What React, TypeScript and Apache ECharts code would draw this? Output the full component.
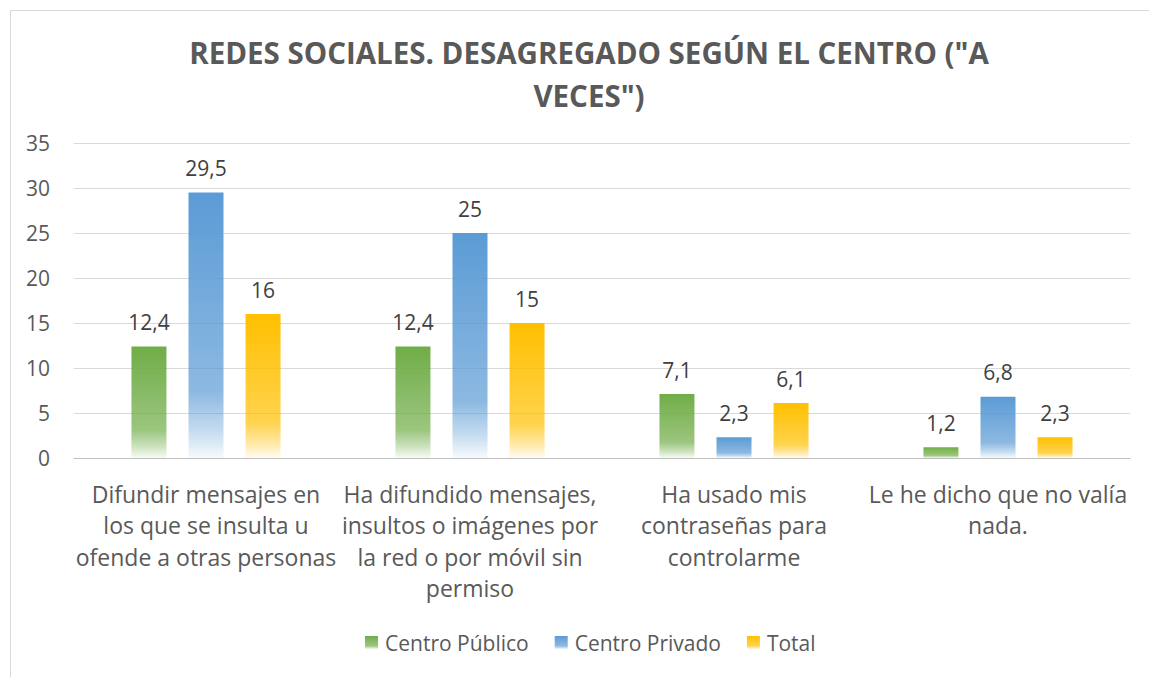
import React, { useEffect, useRef } from "react";
import * as echarts from "echarts";

const titleText = 'REDES SOCIALES. DESAGREGADO SEGÚN EL CENTRO ("A\nVECES")';
const categories = [
  "Difundir mensajes en\nlos que se insulta u\nofende a otras personas",
  "Ha difundido mensajes,\ninsultos o imágenes por\nla red o por móvil sin\npermiso",
  "Ha usado mis\ncontraseñas para\ncontrolarme",
  "Le he dicho que no valía\nnada.",
];
const seriesNames = ["Centro Público", "Centro Privado", "Total"];
const publico = [12.4, 12.4, 7.1, 1.2];
const privado = [29.5, 25, 2.3, 6.8];
const total = [16, 15, 6.1, 2.3];
const colors = ["#70AD47", "#5B9BD5", "#FFC000"];
const yTicks = { min: 0, max: 35, interval: 5 };

const FONT = "'Open Sans', 'Noto Sans', sans-serif";

function hexToRgb(h: string) {
  const n = parseInt(h.slice(1), 16);
  return [(n >> 16) & 255, (n >> 8) & 255, n & 255];
}
function grad(c: string) {
  const [r, g, b] = hexToRgb(c);
  return new echarts.graphic.LinearGradient(0, 0, 0, 1, [
    { offset: 0, color: `rgba(${r},${g},${b},1)` },
    { offset: 0.75, color: `rgba(${r},${g},${b},0.7)` },
    { offset: 0.9, color: `rgba(${r},${g},${b},0.35)` },
    { offset: 1, color: `rgba(${r},${g},${b},0.05)` },
  ]);
}

export default function App() {
  const ref = useRef<HTMLDivElement>(null);
  useEffect(() => {
    if (!ref.current) return;
    const chart = echarts.init(ref.current, undefined, { renderer: "svg" });
    const data = [publico, privado, total];
    chart.setOption({
      animation: false,
      backgroundColor: "#ffffff",
      graphic: [
        {
          type: "rect",
          shape: { x: 10.5, y: 10.5, width: 1150, height: 680 },
          style: { fill: "none", stroke: "#d9d9d9", lineWidth: 1 },
          silent: true,
        },
      ],
      title: {
        text: titleText,
        left: 584,
        top: 26,
        textAlign: "center",
        textStyle: {
          fontFamily: FONT,
          fontSize: 29.5,
          fontWeight: "bold",
          color: "#595959",
          lineHeight: 43,
        },
      },
      legend: {
        data: seriesNames,
        top: 632,
        padding: 0,
        left: 365,
        itemWidth: 13,
        itemHeight: 13,
        itemGap: 26,
        icon: "rect",
        textStyle: { fontFamily: FONT, fontSize: 21, color: "#595959", padding: [0, 0, 0, 2] },
      },
      grid: { left: 74, right: 19, top: 143, bottom: 219, containLabel: false },
      xAxis: {
        type: "category",
        data: categories,
        axisLine: { lineStyle: { color: "#bfbfbf", width: 1 } },
        axisTick: { show: false },
        axisLabel: {
          interval: 0,
          margin: 20,
          fontFamily: FONT,
          fontSize: 23,
          color: "#595959",
          lineHeight: 31.5,
        },
      },
      yAxis: {
        type: "value",
        min: yTicks.min,
        max: yTicks.max,
        interval: yTicks.interval,
        axisLine: { show: false },
        axisTick: { show: false },
        splitLine: { lineStyle: { color: "#d9d9d9", width: 1 } },
        axisLabel: { fontFamily: FONT, fontSize: 21, color: "#595959", margin: 24 },
      },
      series: seriesNames.map((name, i) => ({
        name,
        type: "bar",
        data: data[i],
        barWidth: 35,
        barGap: "63%",
        itemStyle: { color: grad(colors[i]) },
        label: {
          show: true,
          position: "top",
          distance: 14,
          fontFamily: FONT,
          fontSize: 21,
          color: "#404040",
          formatter: (p: any) => String(p.value).replace(".", ","),
        },
      })),
    });
    return () => chart.dispose();
  }, []);
  return (
    <div
      ref={ref}
      style={{ position: "absolute", left: 0, top: 0, width: 1149, height: 677 }}
    />
  );
}
